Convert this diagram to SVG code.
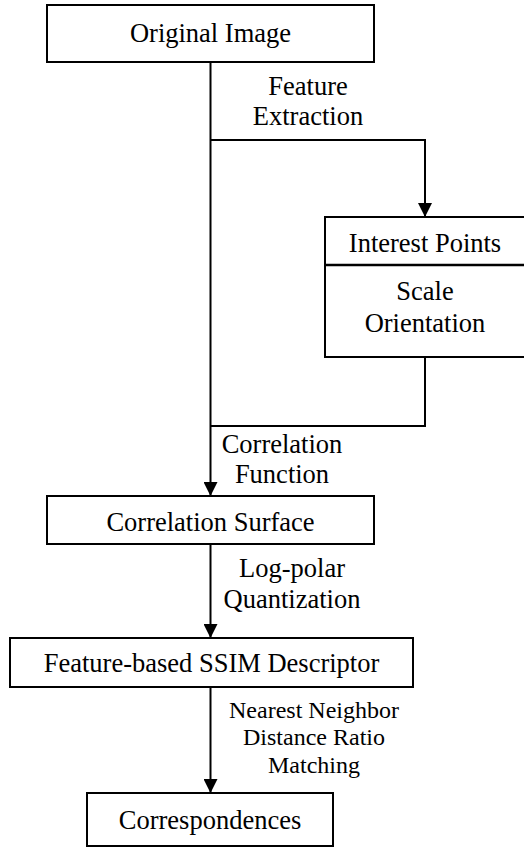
<svg xmlns="http://www.w3.org/2000/svg" width="524" height="847" viewBox="0 0 524 847">
  <style>
    .box { fill: #fff; stroke: #000; stroke-width: 2; }
    .wire { fill: none; stroke: #000; stroke-width: 2; }
    text { font-family: "Liberation Serif", "Times New Roman", serif; font-size: 26.5px; fill: #000; text-anchor: middle; }
    .small { font-size: 24px; }
  </style>
  <defs>
    <marker id="arrow" viewBox="0 0 14 14" refX="14" refY="7" markerWidth="14" markerHeight="14" markerUnits="userSpaceOnUse" orient="auto">
      <path d="M0,0 L14,7 L0,14 Z" fill="#000"/>
    </marker>
  </defs>
  <rect width="524" height="847" fill="#fff"/>

  <!-- connectors -->
  <g id="connectors">
    <path class="wire" d="M210.5,62 V496" marker-end="url(#arrow)"/>
    <path class="wire" d="M210.5,140 H425 V217" marker-end="url(#arrow)"/>
    <path class="wire" d="M425,357 V426 H210.5"/>
    <path class="wire" d="M210.5,544 V638" marker-end="url(#arrow)"/>
    <path class="wire" d="M210.5,687 V793" marker-end="url(#arrow)"/>
    <text x="308" y="95">Feature</text>
    <text x="308" y="125">Extraction</text>
    <text x="282" y="453">Correlation</text>
    <text x="282" y="483">Function</text>
    <text x="292" y="577">Log-polar</text>
    <text x="292" y="608">Quantization</text>
    <text class="small" x="314" y="718">Nearest Neighbor</text>
    <text class="small" x="314" y="745">Distance Ratio</text>
    <text class="small" x="314" y="773">Matching</text>
  </g>

  <g id="original-image">
    <rect class="box" x="47" y="5" width="327" height="57"/>
    <text x="210.5" y="42">Original Image</text>
  </g>

  <g id="interest-points">
    <rect class="box" x="325" y="217" width="210" height="140"/>
    <line x1="325" y1="265" x2="535" y2="265" stroke="#000" stroke-width="2.5"/>
    <text x="425" y="252">Interest Points</text>
    <text x="425" y="300">Scale</text>
    <text x="425" y="332">Orientation</text>
  </g>

  <g id="correlation-surface">
    <rect class="box" x="47" y="496" width="327" height="48"/>
    <text x="210.5" y="531">Correlation Surface</text>
  </g>

  <g id="ssim-descriptor">
    <rect class="box" x="10" y="638" width="403" height="49"/>
    <text x="211.5" y="672">Feature-based SSIM Descriptor</text>
  </g>

  <g id="correspondences">
    <rect class="box" x="87" y="793" width="246" height="53"/>
    <text x="210" y="829">Correspondences</text>
  </g>
</svg>
